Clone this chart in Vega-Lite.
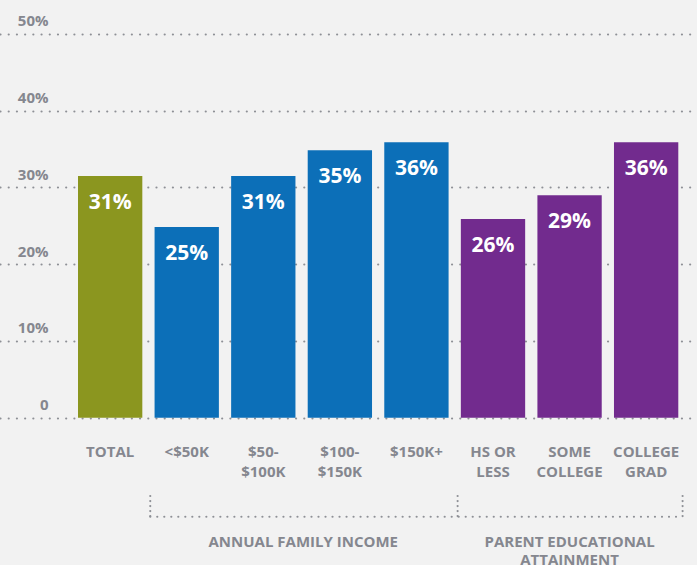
{
  "$schema": "https://vega.github.io/schema/vega-lite/v6.json",
  "width": 697,
  "height": 565,
  "padding": 0,
  "autosize": {"type": "none"},
  "background": "#f2f2f2",
  "config": {"view": {"stroke": null}, "font": "Open Sans"},
  "data": {
    "values": [
      {"cat": "TOTAL", "label": "TOTAL", "value": 31.5, "pct": "31%", "group": "total"},
      {"cat": "<$50K", "label": "<$50K", "value": 24.85, "pct": "25%", "group": "income"},
      {"cat": "$50-$100K", "label": "$50-|$100K", "value": 31.5, "pct": "31%", "group": "income"},
      {"cat": "$100-$150K", "label": "$100-|$150K", "value": 34.85, "pct": "35%", "group": "income"},
      {"cat": "$150K+", "label": "$150K+", "value": 35.9, "pct": "36%", "group": "income"},
      {"cat": "HS OR LESS", "label": "HS OR|LESS", "value": 25.9, "pct": "26%", "group": "edu"},
      {"cat": "SOME COLLEGE", "label": "SOME|COLLEGE", "value": 29.0, "pct": "29%", "group": "edu"},
      {"cat": "COLLEGE GRAD", "label": "COLLEGE|GRAD", "value": 35.9, "pct": "36%", "group": "edu"}
    ]
  },
  "layer": [
    {
      "mark": {"type": "bar"},
      "encoding": {
        "x": {
          "field": "cat", "type": "nominal", "sort": null,
          "scale": {
            "domain": ["TOTAL", "<$50K", "$50-$100K", "$100-$150K", "$150K+", "HS OR LESS", "SOME COLLEGE", "COLLEGE GRAD"],
            "paddingInner": 0.16, "paddingOuter": 0.6315, "align": 0.8066, "round": false
          },
          "axis": null
        },
        "y": {
          "field": "value", "type": "quantitative",
          "scale": {"domain": [-19.19, 54.43], "nice": false, "zero": false},
          "axis": {
            "values": [0, 10, 20, 30, 40, 50],
            "labelExpr": "datum.value == 0 ? '0' : datum.value + '%'",
            "title": null,
            "domain": false,
            "ticks": false,
            "tickSize": 0,
            "labelPadding": -48,
            "labelAlign": "right",
            "labelBaseline": "alphabetic",
            "labelOffset": -8,
            "labelFont": "Open Sans",
            "labelFontSize": 15,
            "labelFontWeight": "bold",
            "labelColor": "#85878f",
            "grid": true,
            "gridDash": [0.01, 8.2],
            "gridCap": "round",
            "gridWidth": 2.2,
            "gridColor": "#8e9096"
          }
        },
        "color": {
          "field": "group", "type": "nominal",
          "scale": {"domain": ["total", "income", "edu"], "range": ["#8b961f", "#0c6fb8", "#722b8e"]},
          "legend": null
        }
      }
    },
    {
      "mark": {"type": "text", "dy": 33, "baseline": "alphabetic", "align": "center", "fontSize": 21, "fontWeight": "bold", "color": "#ffffff"},
      "encoding": {
        "x": {"field": "cat", "type": "nominal"},
        "y": {"field": "value", "type": "quantitative"},
        "text": {"field": "pct"}
      }
    },
    {
      "mark": {"type": "text", "baseline": "alphabetic", "align": "center", "fontSize": 15, "fontWeight": "bold", "color": "#85878f", "lineBreak": "|", "lineHeight": 19.5},
      "encoding": {
        "x": {"field": "cat", "type": "nominal"},
        "y": {"datum": -5.12},
        "text": {"field": "label"}
      }
    },
    {
      "data": {"values": [{}]},
      "mark": {"type": "rule", "strokeDash": [0.01, 7], "strokeCap": "round", "strokeWidth": 2.2, "color": "#8e9096"},
      "encoding": {
        "x": {"datum": "<$50K", "bandPosition": -0.067},
        "x2": {"datum": "COLLEGE GRAD", "bandPosition": 1.067},
        "y": {"datum": -12.9}
      }
    },
    {
      "data": {"values": [{}]},
      "mark": {"type": "rule", "strokeDash": [0.01, 5], "strokeCap": "round", "strokeWidth": 2.2, "color": "#8e9096"},
      "encoding": {
        "x": {"datum": "<$50K", "bandPosition": -0.067},
        "y": {"datum": -10.2},
        "y2": {"datum": -12.9}
      }
    },
    {
      "data": {"values": [{}]},
      "mark": {"type": "rule", "strokeDash": [0.01, 5], "strokeCap": "round", "strokeWidth": 2.2, "color": "#8e9096"},
      "encoding": {
        "x": {"datum": "HS OR LESS", "bandPosition": -0.05},
        "y": {"datum": -10.2},
        "y2": {"datum": -12.9}
      }
    },
    {
      "data": {"values": [{}]},
      "mark": {"type": "rule", "strokeDash": [0.01, 5], "strokeCap": "round", "strokeWidth": 2.2, "color": "#8e9096"},
      "encoding": {
        "x": {"datum": "COLLEGE GRAD", "bandPosition": 1.067},
        "y": {"datum": -10.2},
        "y2": {"datum": -12.9}
      }
    },
    {
      "data": {"values": [{}]},
      "mark": {"type": "text", "baseline": "alphabetic", "align": "center", "fontSize": 15, "fontWeight": "bold", "color": "#85878f"},
      "encoding": {
        "x": {"datum": "$100-$150K", "bandPosition": -0.07},
        "y": {"datum": -16.85},
        "text": {"value": "ANNUAL FAMILY INCOME"}
      }
    },
    {
      "data": {"values": [{}]},
      "mark": {"type": "text", "baseline": "alphabetic", "align": "center", "fontSize": 15, "fontWeight": "bold", "color": "#85878f", "lineBreak": "|", "lineHeight": 18},
      "encoding": {
        "x": {"datum": "SOME COLLEGE", "bandPosition": 0.5},
        "y": {"datum": -16.85},
        "text": {"value": "PARENT EDUCATIONAL|ATTAINMENT"}
      }
    }
  ]
}
